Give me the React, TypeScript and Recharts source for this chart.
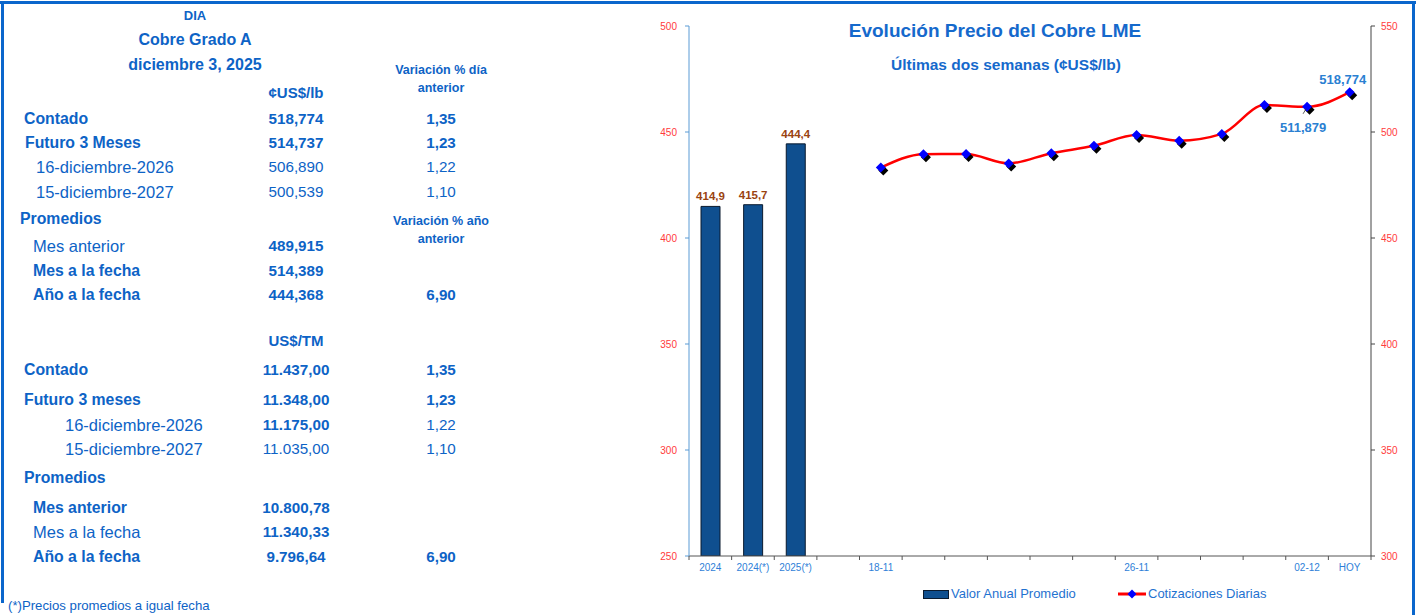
import React from 'react';
import { ComposedChart, Bar, Line, XAxis, YAxis, LabelList, Legend } from 'recharts';

// ---------- chart data ----------
const categories = ['2024', '2024(*)', '2025(*)', '', '18-11', '19-11', '20-11', '21-11', '24-11', '25-11', '26-11', '27-11', '28-11', '01-12', '02-12', 'HOY'];
const tickLabels = ['2024', '2024(*)', '2025(*)', '', '18-11', '', '', '', '', '', '26-11', '', '', '', '02-12', 'HOY'];
const annualAverages: (number | null)[] = [414.9, 415.7, 444.4, null, null, null, null, null, null, null, null, null, null, null, null, null];
const dailyQuotes: (number | null)[] = [null, null, null, null, 483.2, 489.5, 489.6, 485.2, 490.0, 493.5, 498.6, 495.9, 499.1, 512.7, 511.879, 518.774];
const leftTicks = [250, 300, 350, 400, 450, 500];
const rightTicks = [300, 350, 400, 450, 500, 550];
const labelBelowIndex = 14;
const labelAboveIndex = 15;

// ---------- table data ----------
const lbLabels = ['Contado', 'Futuro 3 Meses', '16-diciembre-2026', '15-diciembre-2027', 'Promedios', 'Mes anterior', 'Mes a la fecha', 'Año a la fecha'];
const lbValues = ['518,774', '514,737', '506,890', '500,539', '', '489,915', '514,389', '444,368'];
const lbVariation = ['1,35', '1,23', '1,22', '1,10', '', '', '', '6,90'];
const tmLabels = ['Contado', 'Futuro 3 meses', '16-diciembre-2026', '15-diciembre-2027', 'Promedios', 'Mes anterior', 'Mes a la fecha', 'Año a la fecha'];
const tmValues = ['11.437,00', '11.348,00', '11.175,00', '11.035,00', '', '10.800,78', '11.340,33', '9.796,64'];
const tmVariation = ['1,35', '1,23', '1,22', '1,10', '', '', '', '6,90'];

const data = categories.map((c, i) => ({ cat: c, anual: annualAverages[i], diario: dailyQuotes[i] }));

const BLUE = '#0d63c6';
const FONT = '"Liberation Sans", Arial, sans-serif';
const X_TICK_SIZE = 4;
const X_TICK_MARGIN = 4;

// layout for table rows: [y, x, labelBold, valueBold, varBold]
const lbLayout: [number, number, boolean, boolean, boolean][] = [
  [119, 24, true, true, true],
  [143, 25, true, true, true],
  [167, 36, false, false, false],
  [192, 36, false, false, false],
  [219, 20, true, true, true],
  [246, 33, false, true, true],
  [271, 33, true, true, true],
  [295, 33, true, true, true],
];
const tmLayout: [number, number, boolean, boolean, boolean][] = [
  [370, 24, true, true, true],
  [400, 24, true, true, true],
  [425, 65, false, true, false],
  [449, 65, false, false, false],
  [478, 24, true, true, true],
  [508, 33, true, true, true],
  [532, 33, false, true, true],
  [557, 33, true, true, true],
];

type TProps = { x: number; y: number; text: string; size: number; bold?: boolean; center?: boolean; color?: string };
const T = ({ x, y, text, size, bold, center, color }: TProps) => (
  <div
    style={{
      position: 'absolute',
      left: x,
      top: y - 11,
      height: 22,
      lineHeight: '22px',
      fontSize: size,
      fontWeight: bold ? 700 : 400,
      fontFamily: FONT,
      color: color || BLUE,
      whiteSpace: 'nowrap',
      transform: center ? 'translateX(-50%)' : undefined,
    }}
  >
    {text}
  </div>
);

const renderRows = (labels: string[], values: string[], vars: string[], layout: [number, number, boolean, boolean, boolean][]) =>
  labels.map((lab, i) => {
    const [y, x, lb, vb, varb] = layout[i];
    return (
      <React.Fragment key={lab + i}>
        <T x={x} y={y} text={lab} size={lb ? 15.8 : 16.5} bold={lb} />
        {values[i] && <T x={296} y={y} text={values[i]} size={15.2} bold={vb} center />}
        {vars[i] && <T x={441} y={y} text={vars[i]} size={15.2} bold={varb} center />}
      </React.Fragment>
    );
  });

const diamondPath = (cx: number, cy: number, r: number) => `M${cx},${cy - r} L${cx + r},${cy} L${cx},${cy + r} L${cx - r},${cy} Z`;

const DiamondDot = (props: any) => {
  const { cx, cy, index } = props;
  if (cx == null || cy == null || props.value == null) return <g key={'d' + index} />;
  return (
    <g key={'d' + index}>
      <path d={diamondPath(cx + 2.5, cy + 3, 5)} fill="#000" />
      <path d={diamondPath(cx, cy, 5)} fill="#0000ff" />
    </g>
  );
};

// category tick: label at the band centre, tick marks at the band boundaries (Excel style)
const CategoryTick = (props: any) => {
  const { x, y, payload, index, width } = props;
  const half = payload && payload.offset != null ? payload.offset : width / categories.length / 2;
  const axisY = y - X_TICK_SIZE - X_TICK_MARGIN;
  const i = payload && payload.index != null ? payload.index : index;
  return (
    <g>
      <line x1={x - half} y1={axisY} x2={x - half} y2={axisY + X_TICK_SIZE} stroke="#555" />
      {i === categories.length - 1 && <line x1={x + half} y1={axisY} x2={x + half} y2={axisY + X_TICK_SIZE} stroke="#555" />}
      <text x={x} y={y} dy="0.71em" textAnchor="middle" fill="#2f7fd8" fontSize={10} fontFamily="Liberation Sans, Arial">
        {tickLabels[i]}
      </text>
    </g>
  );
};

const fmt3 = (v: number) => v.toFixed(3).replace('.', ',');

const LineLabel = (props: any) => {
  const { x, y, index, value } = props;
  if (value == null) return null;
  if (index === labelAboveIndex) {
    return (
      <text x={x - 7} y={y - 8} textAnchor="middle" fill="#2a80d2" fontSize={13} fontWeight="bold" fontFamily="Liberation Sans, Arial">
        {fmt3(value)}
      </text>
    );
  }
  if (index === labelBelowIndex) {
    return (
      <g>
        <line x1={x - 1} y1={y + 2} x2={x - 4} y2={y + 7} stroke="#333" strokeWidth={0.8} />
        <text x={x - 4} y={y + 25} textAnchor="middle" fill="#2a80d2" fontSize={13} fontWeight="bold" fontFamily="Liberation Sans, Arial">
          {fmt3(value)}
        </text>
      </g>
    );
  }
  return null;
};

const LegendContent = () => (
  <div style={{ position: 'relative', width: 420, height: 18, fontFamily: FONT, fontSize: 13, color: '#1f72d0' }}>
    <div style={{ position: 'absolute', left: 0, top: 5, width: 24, height: 7, background: '#0f4f8f', border: '1px solid #0a1a2e' }} />
    <div style={{ position: 'absolute', left: 28, top: 0, lineHeight: '18px', whiteSpace: 'nowrap' }}>Valor Anual Promedio</div>
    <svg style={{ position: 'absolute', left: 195, top: 2 }} width={28} height={14}>
      <line x1={0} y1={7} x2={28} y2={7} stroke="#ff0000" strokeWidth={3} />
      <path d={diamondPath(14, 7, 4.5)} fill="#0000ff" />
    </svg>
    <div style={{ position: 'absolute', left: 225, top: 0, lineHeight: '18px', whiteSpace: 'nowrap' }}>Cotizaciones Diarias</div>
  </div>
);

export default function App() {
  return (
    <div style={{ position: 'absolute', left: 0, top: 0, width: 1416, height: 615, background: '#fff', overflow: 'hidden', fontFamily: FONT }}>
      {/* borders */}
      <div style={{ position: 'absolute', left: 0, top: 1, width: 1416, height: 3, background: '#0a66cc' }} />
      <div style={{ position: 'absolute', left: 1, top: 1, width: 3, height: 602, background: '#0a66cc' }} />
      <div style={{ position: 'absolute', left: 1412, top: 1, width: 3, height: 614, background: '#0a66cc' }} />

      {/* table headers */}
      <T x={195} y={16} text="DIA" size={13} bold center />
      <T x={195} y={40} text="Cobre Grado A" size={16} bold center />
      <T x={195} y={65} text="diciembre 3, 2025" size={16} bold center />
      <T x={441} y={70} text="Variación % día" size={12.5} bold center />
      <T x={441} y={88} text="anterior" size={12.5} bold center />
      <T x={296} y={93} text="¢US$/lb" size={15} bold center />
      <T x={441} y={221} text="Variación % año" size={12.5} bold center />
      <T x={441} y={239} text="anterior" size={12.5} bold center />
      <T x={296} y={341} text="US$/TM" size={15} bold center />
      {renderRows(lbLabels, lbValues, lbVariation, lbLayout)}
      {renderRows(tmLabels, tmValues, tmVariation, tmLayout)}
      <T x={8} y={606} text="(*)Precios promedios a igual fecha" size={13.2} />

      {/* chart titles */}
      <T x={995} y={31} text="Evolución Precio del Cobre LME" size={19} bold center color="#1569cc" />
      <T x={1006} y={65} text="Últimas dos semanas (¢US$/lb)" size={15.5} bold center color="#1569cc" />

      <div style={{ position: 'absolute', left: 640, top: 0 }}>
        <ComposedChart width={776} height={615} data={data} margin={{ top: 26, right: 5, bottom: 29, left: 0 }}>
          <XAxis
            dataKey="cat"
            height={30}
            interval={0}
            axisLine={{ stroke: '#555' }}
            tickLine={false}
            tickSize={X_TICK_SIZE}
            tickMargin={X_TICK_MARGIN}
            tick={<CategoryTick />}
          />
          <YAxis
            yAxisId="left"
            domain={[250, 500]}
            ticks={leftTicks}
            width={49}
            tickSize={4}
            tickMargin={8}
            axisLine={{ stroke: '#5b9bd5' }}
            tickLine={{ stroke: '#5b9bd5' }}
            tick={{ fill: '#ff3b3b', fontSize: 10, fontFamily: 'Liberation Sans, Arial' }}
            allowDataOverflow
          />
          <YAxis
            yAxisId="right"
            orientation="right"
            domain={[300, 550]}
            ticks={rightTicks}
            width={40}
            tickSize={4}
            tickMargin={6}
            axisLine={{ stroke: '#444' }}
            tickLine={{ stroke: '#444' }}
            tick={{ fill: '#ff3b3b', fontSize: 10, fontFamily: 'Liberation Sans, Arial' }}
            allowDataOverflow
          />
          <Bar yAxisId="left" dataKey="anual" barSize={19} fill="#0f4f8f" stroke="#0a1a2e" strokeWidth={1} isAnimationActive={false}>
            <LabelList
              dataKey="anual"
              position="top"
              offset={6}
              fill="#9a4311"
              fontSize={11.5}
              fontWeight="bold"
              fontFamily="Liberation Sans, Arial"
              formatter={(v: any) => (v == null ? '' : Number(v).toFixed(1).replace('.', ','))}
            />
          </Bar>
          <Line
            yAxisId="right"
            dataKey="diario"
            type="monotone"
            stroke="#ff0000"
            strokeWidth={2.5}
            dot={<DiamondDot />}
            activeDot={false}
            label={<LineLabel />}
            isAnimationActive={false}
          />
          <Legend
            layout="horizontal"
            verticalAlign="middle"
            align="center"
            wrapperStyle={{ top: 585, left: 283, width: 420, height: 18 }}
            content={<LegendContent />}
          />
        </ComposedChart>
      </div>
    </div>
  );
}
